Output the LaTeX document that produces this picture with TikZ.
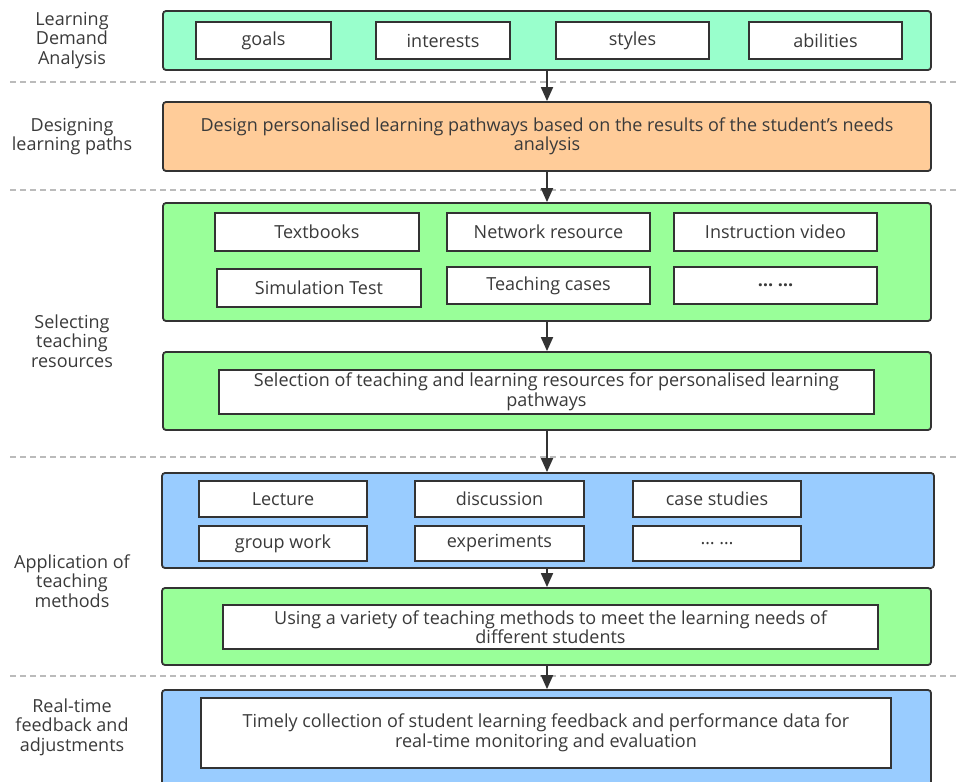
\documentclass[tikz,border=0pt]{standalone}
\usepackage{fontspec}
\setmainfont{Open Sans}
\usetikzlibrary{arrows.meta,positioning}
\definecolor{mint}{HTML}{99FFCC}
\definecolor{peach}{HTML}{FFCC99}
\definecolor{lgreen}{HTML}{99FF99}
\definecolor{lblue}{HTML}{99CCFF}
\definecolor{ink}{HTML}{333333}
\definecolor{txt}{HTML}{3A3A3A}
\definecolor{sep}{HTML}{BBBBBB}
\tikzset{
	>={Triangle[width=12pt,length=14pt]},
}

\begin{document}
\begin{tikzpicture}[x=1pt,y=-1pt,
font=\fontsize{18}{19.5}\selectfont, text=txt,
stage/.style = {draw=ink, line width=1.8pt, rounded corners=3pt, minimum width=768pt, inner sep=0pt, align=center},
item/.style = {draw=ink, line width=1.8pt, fill=white, inner sep=0pt, align=center},
label/.style = {align=center, inner sep=0pt},
divider/.style = {draw=sep, line width=1.2pt, dash pattern=on 6pt off 4pt},
flow/.style = {->, draw=ink, line width=1.8pt}]
\clip (0,0) rectangle (959,782);
\useasboundingbox (0,0) rectangle (959,782);
% separators
\draw[divider] (10,82) -- (959,82);
\draw[divider] (10,190) -- (959,190);
\draw[divider] (10,457) -- (959,457);
\draw[divider] (10,676) -- (959,676);
% stage 1
\node[stage, fill=mint, minimum height=59pt] (demand) at (547,40.5) {};
\node[item, minimum width=135pt, minimum height=37pt] (goals) at (263.5,40.5) {goals};
\node[item, minimum width=134pt, minimum height=37pt] (interests) at (443,40.5) {interests};
\node[item, minimum width=153pt, minimum height=37pt] (styles) at (632.5,40.5) {styles};
\node[item, minimum width=153pt, minimum height=37pt] (abilities) at (825.5,40.5) {abilities};
\node[label] (demandlbl) at (72,40.5) {Learning\\Demand\\Analysis};
% stage 2
\node[stage, fill=peach, minimum height=69pt] (design) at (547,136.5) {Design personalised learning pathways based on the results of the student{\char"0027}s needs\\analysis};
\node[label] (designlbl) at (72,136.5) {Designing\\learning paths};
% stage 3
\node[stage, fill=lgreen, minimum height=118pt] (resources) at (547,262) {};
\node[item, minimum width=204pt, minimum height=38pt] (textbooks) at (317,232) {Textbooks};
\node[item, minimum width=203pt, minimum height=38pt] (network) at (548.5,232) {Network resource};
\node[item, minimum width=203pt, minimum height=38pt] (video) at (775.5,232) {Instruction video};
\node[item, minimum width=204pt, minimum height=38pt] (simtest) at (319,288) {Simulation Test};
\node[item, minimum width=203pt, minimum height=37pt] (cases) at (548.5,285.5) {Teaching cases};
\node[item, minimum width=203pt, minimum height=37pt] (moreres) at (775.5,285.5) {\textbf{\dots\ \dots}};
\node[stage, fill=lgreen, minimum height=78pt] (selection) at (547,391) {};
\node[item, minimum width=655pt, minimum height=44pt] (selbox) at (546.5,392) {Selection of teaching and learning resources for personalised learning\\pathways};
\node[label] (resourceslbl) at (72,341) {Selecting\\teaching\\resources};
% stage 4
\node[stage, fill=lblue, minimum width=772pt, minimum height=95pt] (methods) at (548,520.5) {};
\node[item, minimum width=168pt, minimum height=36pt] (lecture) at (283,499) {Lecture};
\node[item, minimum width=169pt, minimum height=36pt] (discussion) at (499.5,499) {discussion};
\node[item, minimum width=168pt, minimum height=36pt] (casestudies) at (717,499) {case studies};
\node[item, minimum width=168pt, minimum height=35pt] (groupwork) at (283,543.5) {group work};
\node[item, minimum width=169pt, minimum height=35pt] (experiments) at (499.5,543.5) {experiments};
\node[item, minimum width=168pt, minimum height=35pt] (moremeth) at (717,543.5) {\dots\ \dots};
\node[stage, fill=lgreen, minimum width=769pt, minimum height=77pt] (variety) at (546.5,626.5) {};
\node[item, minimum width=655pt, minimum height=44pt] (varbox) at (550.5,627) {Using a variety of teaching methods to meet the learning needs of\\different students};
\node[label] (methodslbl) at (72,581) {Application of\\teaching\\methods};
% stage 5
\node[stage, fill=lblue, minimum width=769pt, minimum height=130pt] (feedback) at (546.5,755) {};
\node[item, minimum width=690pt, minimum height=70pt] (fbbox) at (546,733) {Timely collection of student learning feedback and performance data for\\real-time monitoring and evaluation};
\node[label] (feedbacklbl) at (72,727) {Real-time\\feedback and\\adjustments};
% arrows
\draw[flow] (demand) -- (design);
\draw[flow] (design) -- (resources);
\draw[flow] (resources) -- (selection);
\draw[flow] (selection) -- (methods.north -| selection.south);
\draw[flow] (methods.south -| selection.south) -- (variety.north -| selection.south);
\draw[flow] (variety.south -| selection.south) -- (feedback.north -| selection.south);
\end{tikzpicture}
\end{document}
